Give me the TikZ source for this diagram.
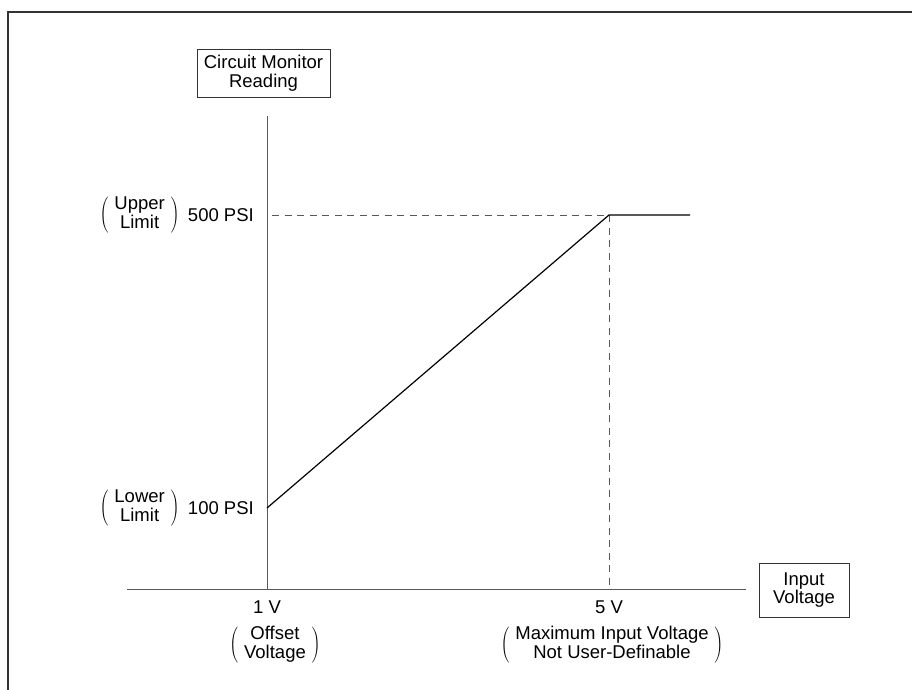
\documentclass[tikz,border=0pt]{standalone}
\usepackage{fontspec}
\setmainfont{Liberation Sans}
\usetikzlibrary{positioning}
\renewcommand\arraystretch{1.2}

\begin{document}
\begin{tikzpicture}[x=1pt,y=1pt,
  lbl/.style={font=\fontsize{18.5}{16.5}\selectfont,inner sep=1pt},
  titlebox/.style={lbl,font=\fontsize{18.5}{18.5}\selectfont,draw=black!80,line width=0.8pt,align=center},
  axis/.style={draw=black!65,line width=1pt},
  guide/.style={draw=black!65,dash pattern=on 7pt off 5.5pt,line width=0.8pt}]
\useasboundingbox(0,0)rectangle(912,690);
\draw[line width=1.4pt,black!80](8,0)--(8,678)--(912,678);
\coordinate(O)at(267,100);\coordinate(yt)at(267,574);
\coordinate(xl)at(127,100);\coordinate(xr)at(746,100);
\coordinate(lo)at(267,182);\coordinate(hi)at(609,475);
\coordinate(hx)at(690,475);\coordinate(v5)at(609,100);
\draw[axis](O)--(yt)(xl)--(xr);
\draw[guide]([xshift=5pt]yt|-hi)--(hi)--(v5);
\draw[line width=1.2pt](lo)--(hi)--(hx);
\node[titlebox,minimum width=133,minimum height=48](ylab)at(263.5,617){Circuit Monitor\\Reading};
\node[titlebox,minimum width=90,minimum height=54](xlab)at(804,100){Input\\Voltage};
\node[lbl,anchor=east](p500)at(255,475){500 PSI};
\node[lbl,left=6pt of p500](ulim){$\left(\begin{tabular}{c}Upper\\Limit\end{tabular}\right)$};
\node[lbl,anchor=east](p100)at(255,182){100 PSI};
\node[lbl,left=6pt of p100](llim){$\left(\begin{tabular}{c}Lower\\Limit\end{tabular}\right)$};
\node[lbl](t1)at(267,83){1 V};\node[lbl](t5)at(609,83){5 V};
\node[lbl](offs)at(275,45){$\left(\begin{tabular}{c}Offset\\Voltage\end{tabular}\right)$};
\node[lbl](maxv)at(612,45){$\left(\begin{tabular}{c}Maximum Input Voltage\\Not User-Definable\end{tabular}\right)$};
\end{tikzpicture}
\end{document}
